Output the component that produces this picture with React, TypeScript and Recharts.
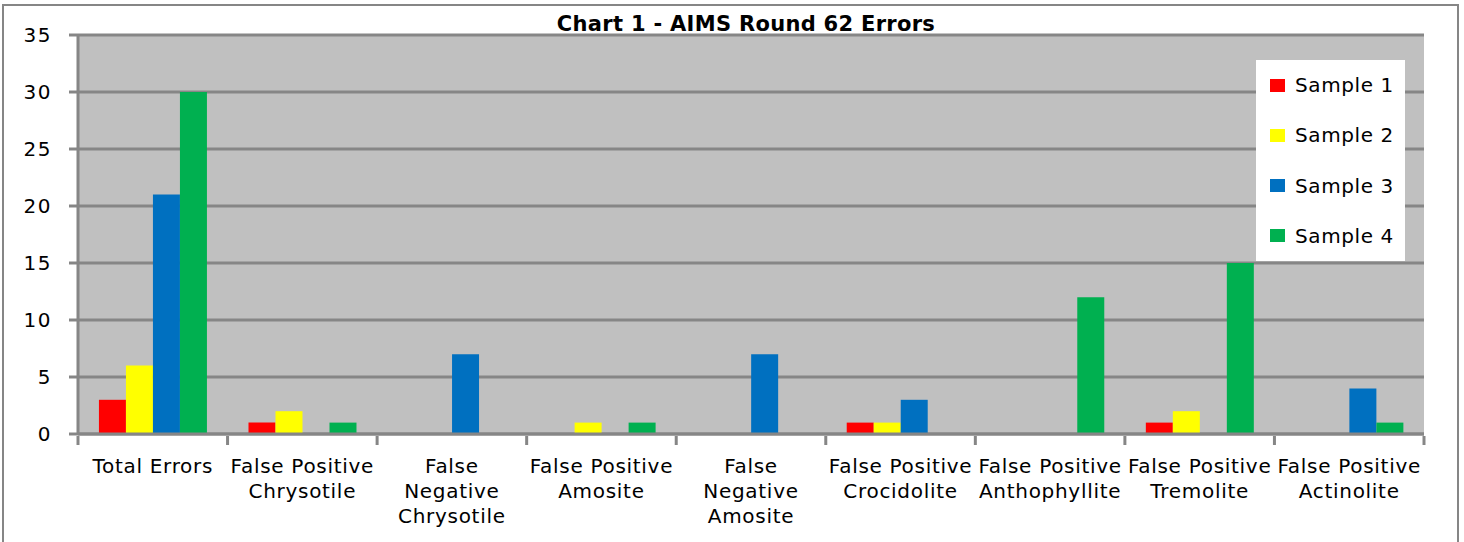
import React from 'react';
import { BarChart, Bar, XAxis, YAxis, CartesianGrid, Legend } from 'recharts';

const categories = [
  'Total Errors',
  'False Positive\nChrysotile',
  'False\nNegative\nChrysotile',
  'False Positive\nAmosite',
  'False\nNegative\nAmosite',
  'False Positive\nCrocidolite',
  'False Positive\nAnthophyllite',
  'False Positive\nTremolite',
  'False Positive\nActinolite',
];
const sample1 = [3, 1, 0, 0, 0, 1, 0, 1, 0];
const sample2 = [6, 2, 0, 1, 0, 1, 0, 2, 0];
const sample3 = [21, 0, 7, 0, 7, 3, 0, 0, 4];
const sample4 = [30, 1, 0, 1, 0, 0, 12, 15, 1];
const yTicks = [0, 5, 10, 15, 20, 25, 30, 35];

const seriesNames = ['Sample 1', 'Sample 2', 'Sample 3', 'Sample 4'];
const seriesColors = ['#FF0000', '#FFFF00', '#0070C0', '#00B050'];

const data = categories.map((c, i) => ({
  name: c,
  s1: sample1[i],
  s2: sample2[i],
  s3: sample3[i],
  s4: sample4[i],
}));

const W = 1464;
const H = 542;
const PLOT_LEFT = 78;
const PLOT_RIGHT = 1424;
const AXIS_GRAY = '#868686';
const FONT = '"DejaVu Sans", Verdana, sans-serif';
const bandWidth = (PLOT_RIGHT - PLOT_LEFT) / categories.length;

const XTick = (props: any) => {
  const { x, y, payload, index } = props;
  const lines = String(payload.value).split('\n');
  return (
    <g>
      <line x1={x - bandWidth / 2} x2={x - bandWidth / 2} y1={y} y2={y + 9} stroke={AXIS_GRAY} strokeWidth={3} />
      {index === categories.length - 1 && (
        <line x1={x + bandWidth / 2} x2={x + bandWidth / 2} y1={y} y2={y + 9} stroke={AXIS_GRAY} strokeWidth={3} />
      )}
      <text
        x={x}
        y={y + 37}
        textAnchor="middle"
        fontFamily={FONT}
        fontSize={20}
        letterSpacing={0.7}
        fill="#000"
      >
        {lines.map((l, i) => (
          <tspan key={i} x={x} dy={i === 0 ? 0 : 25}>
            {l}
          </tspan>
        ))}
      </text>
    </g>
  );
};

const LegendBox = () => (
  <div
    style={{
      background: '#fff',
      width: 149,
      height: 201,
      display: 'flex',
      flexDirection: 'column',
      fontFamily: FONT,
      fontSize: 20,
      letterSpacing: 0.6,
      color: '#000',
      boxSizing: 'border-box',
      textAlign: 'left',
    }}
  >
    {seriesNames.map((n, i) => (
      <div key={n} style={{ height: 50.25, display: 'flex', alignItems: 'center', paddingLeft: 14 }}>
        <span style={{ width: 15, height: 13, background: seriesColors[i], marginRight: 10 }} />
        <span>{n}</span>
      </div>
    ))}
  </div>
);

export default function App() {
  return (
    <div style={{ position: 'absolute', left: 0, top: 0, width: W, height: H, background: '#fff', overflow: 'hidden' }}>
      <div
        style={{
          position: 'absolute',
          left: 2,
          top: 4,
          width: 1453,
          height: 560,
          border: `2px solid ${AXIS_GRAY}`,
        }}
      />
      <div
        style={{
          position: 'absolute',
          left: 496,
          top: 12,
          width: 500,
          textAlign: 'center',
          fontFamily: FONT,
          fontWeight: 'bold',
          fontSize: 21,
          letterSpacing: 0.3,
          lineHeight: '24px',
          color: '#000',
        }}
      >
        Chart 1 - AIMS Round 62 Errors
      </div>
      <div style={{ position: 'absolute', left: 0, top: 0 }}>
        <BarChart
          width={W}
          height={H}
          data={data}
          margin={{ top: 35, right: W - PLOT_RIGHT, bottom: 8, left: 0 }}
          barCategoryGap="14%"
          barGap={0}
        >
          <CartesianGrid vertical={false} stroke={AXIS_GRAY} strokeWidth={3} fill="#C0C0C0" fillOpacity={1} />
          <XAxis
            dataKey="name"
            height={100}
            interval={0}
            tickLine={false}
            tickSize={0}
            axisLine={{ stroke: AXIS_GRAY, strokeWidth: 3 }}
            tick={<XTick />}
          />
          <YAxis
            width={PLOT_LEFT}
            domain={[0, 35]}
            ticks={yTicks}
            interval={0}
            tickSize={9}
            tickMargin={17}
            tickLine={{ stroke: AXIS_GRAY, strokeWidth: 3 }}
            axisLine={{ stroke: AXIS_GRAY, strokeWidth: 3 }}
            tick={{ fill: '#000', fontSize: 20, fontFamily: FONT, letterSpacing: 1.5 }}
          />
          <Legend
            layout="horizontal"
            verticalAlign="middle"
            align="center"
            content={<LegendBox />}
            wrapperStyle={{ left: 1256, top: 60, width: 149, height: 201, margin: 0 }}
          />
          <Bar dataKey="s1" name={seriesNames[0]} fill={seriesColors[0]} isAnimationActive={false} />
          <Bar dataKey="s2" name={seriesNames[1]} fill={seriesColors[1]} isAnimationActive={false} />
          <Bar dataKey="s3" name={seriesNames[2]} fill={seriesColors[2]} isAnimationActive={false} />
          <Bar dataKey="s4" name={seriesNames[3]} fill={seriesColors[3]} isAnimationActive={false} />
        </BarChart>
      </div>
    </div>
  );
}
